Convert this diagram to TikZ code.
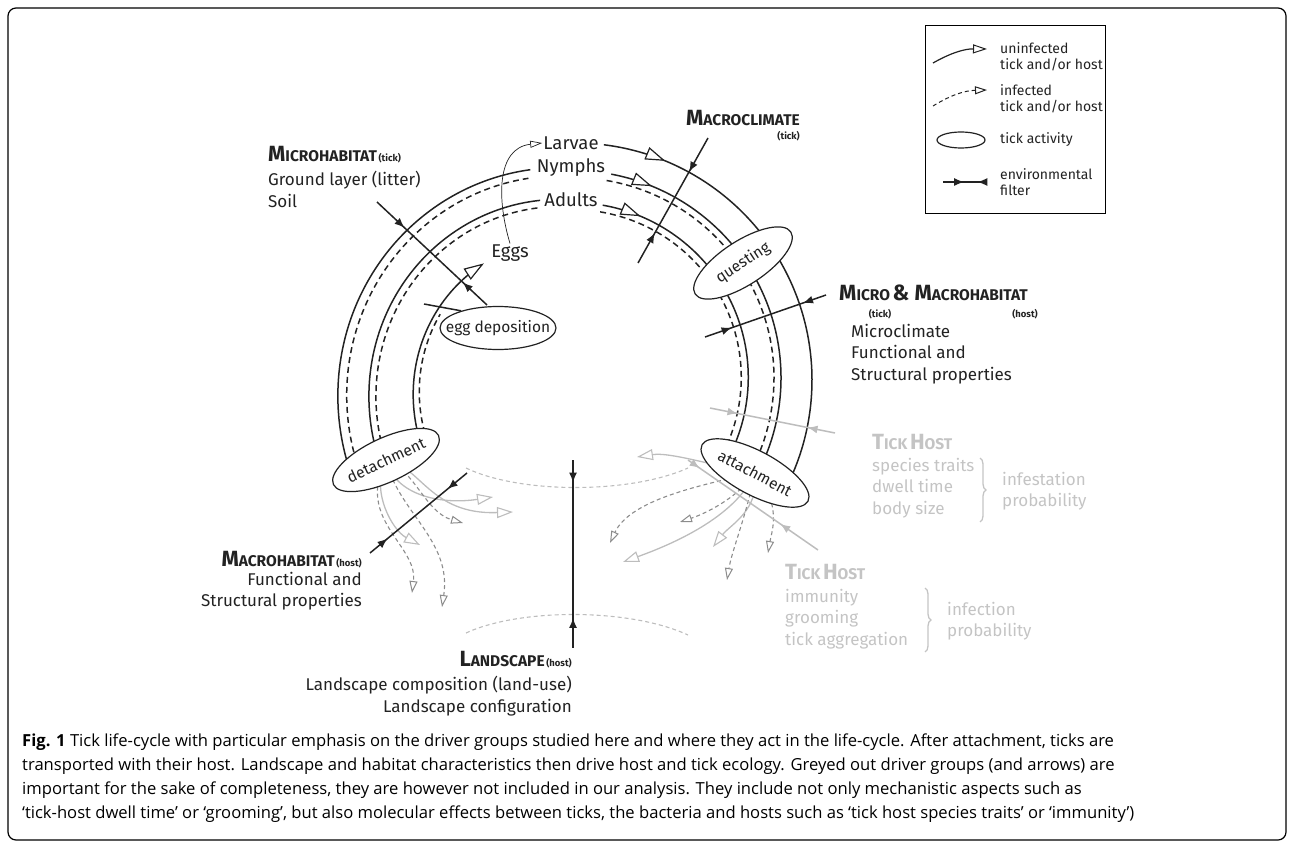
\documentclass[tikz,border=0pt]{standalone}
\usepackage{fontspec}
\setmainfont{Fira Sans}
\newfontfamily\capfont{Open Sans}
\usetikzlibrary{arrows.meta,decorations.markings,decorations.pathreplacing,shapes.geometric,backgrounds}

\definecolor{inkgrey}{HTML}{222222}
\definecolor{hostgrey}{HTML}{BDBDBD}
\definecolor{infgrey}{HTML}{8C8C8C}
\definecolor{txtgrey}{HTML}{C4C4C4}

% small-caps driver names, built by hand
\newcommand{\drvname}[2]{{\bfseries\fontsize{22}{24}\selectfont #1\fontsize{15.5}{18}\selectfont #2}}
\newcommand{\drvsub}[1]{{\bfseries\fontsize{9.5}{11}\selectfont (#1)}}
\newcommand{\zwtext}[1]{\makebox[0pt]{#1}}
% spiral piece round the life-cycle centre: from angle, to angle, from radius, to radius
\newcommand{\spiral}[4]{plot[domain=#1:#2,samples=90,variable=\t]({575+(#3+(#4-(#3))*(\t-(#1))/(#2-(#1)))*cos(\t)},{380+(#3+(#4-(#3))*(\t-(#1))/(#2-(#1)))*sin(\t)})}

\begin{document}
\begin{tikzpicture}[x=1pt, y=-1pt,
  ring/.style={draw=inkgrey, line width=1.5pt},
  infring/.style={ring, dash pattern=on 6pt off 4pt},
  stagearrow/.style={postaction=decorate, decoration={markings,
      mark=at position #1 with {\arrow{Triangle[fill=white, length=20pt, width=13pt, line width=1.2pt]}}}},
  envfilter/.style 2 args={draw=inkgrey, line width=1.5pt, postaction=decorate, decoration={markings,
      mark=at position #1 with {\arrow{Latex[length=10pt, width=8pt]}},
      mark=at position #2 with {\arrowreversed{Latex[length=10pt, width=8pt]}}}},
  greyfilter/.style 2 args={envfilter={#1}{#2}, draw=hostgrey},
  activity/.style={ellipse, draw=inkgrey, line width=1.2pt, fill=white, inner sep=0pt,
      text=inkgrey, font=\fontsize{15.5}{18}\selectfont},
  hostarrow/.style={draw=hostgrey, line width=1.3pt, -{Triangle[fill=white, length=16pt, width=11pt, line width=1.1pt]}},
  infarrow/.style={draw=infgrey, line width=1.1pt, dash pattern=on 4pt off 3pt, -{Triangle[fill=white, length=12pt, width=8pt, line width=1pt]}},
  landarc/.style={draw=hostgrey, line width=1.1pt, dash pattern=on 4pt off 3pt},
  stagelbl/.style={inner sep=1pt, text=inkgrey, font=\fontsize{18.5}{21}\selectfont},
  bodytxt/.style={inner sep=0pt, text=inkgrey, align=left, font=\fontsize{17}{21.5}\selectfont},
  headtxt/.style={inner sep=0pt, text=inkgrey},
  legtxt/.style={inner sep=0pt, text=inkgrey, align=left, anchor=west, font=\fontsize{14}{16.5}\selectfont},
  capline/.style={inner sep=0pt, anchor=base west, text=black, font=\capfont\fontsize{16.6}{19}\selectfont}]

\useasboundingbox (0,0) rectangle (1292,845);
\draw[line width=1.2pt, rounded corners=8pt] (8,8) rectangle (1286,840);

% rings going down the right side: questing to attachment
\draw[ring, stagearrow=0.14] \spiral{-83}{27}{237}{237};
\draw[ring, stagearrow=0.11] \spiral{-80}{27}{209}{205};
\draw[infring] \spiral{-81}{27}{202}{198};
\draw[ring, stagearrow=0.12] \spiral{-81}{27}{177}{172};
\draw[infring] \spiral{-81.5}{27}{170}{165};

% rings going up the left side: detachment to next stage
\draw[ring] \spiral{157}{258}{243}{215};
\draw[infring] \spiral{157}{257}{234}{207};
\draw[ring] \spiral{157}{259}{212}{183};
\draw[infring] \spiral{157}{258}{205}{176};
\draw[ring, -{Triangle[fill=white, length=20pt, width=13pt, line width=1.2pt]}] \spiral{157}{232}{167}{148};
\draw[infring] \spiral{157}{206}{160}{150};

% tick activities
\node[activity, minimum width=114, minimum height=44, rotate=33] (quest) at (743,263) {\zwtext{questing}};
\node[activity, minimum width=120, minimum height=44, rotate=-28] (attach) at (755,473) {\zwtext{attachment}};
\node[activity, minimum width=116, minimum height=44, rotate=25] (detach) at (386,460) {\zwtext{detachment}};
\node[activity, minimum width=116, minimum height=43] (eggdep) at (498,328) {\zwtext{egg deposition}};

% stages
\node[stagelbl] (larvae) at (571,143) {Larvae};
\node[stagelbl] (nymphs) at (571,168) {Nymphs};
\node[stagelbl] (adults) at (571,200) {Adults};
\node[stagelbl] (eggs) at (510,253) {Eggs};

\coordinate (eggstub) at (424,304);
\draw[ring] (eggstub) -- (eggdep.155);
\draw[draw=inkgrey, line width=0.7pt, -{Triangle[fill=white, length=12pt, width=7pt, line width=0.7pt]}]
  (eggs.north) .. controls (497,200) and (496,148) .. (larvae.west);

% transport with the host (greyed out)
\coordinate (dtA) at (493,497);
\coordinate (dtB) at (513,512);
\coordinate (dtC) at (463,523);
\coordinate (dtD) at (420,545);
\coordinate (dtE) at (412,593);
\coordinate (dtF) at (442,607);
\coordinate (atA) at (637,457);
\coordinate (atB) at (610,543);
\coordinate (atC) at (680,522);
\coordinate (atD) at (623,562);
\coordinate (atE) at (713,547);
\coordinate (atF) at (727,580);
\coordinate (atG) at (768,553);
\coordinate (la1) at (466,468);
\coordinate (la2) at (688,468);
\coordinate (lb1) at (466,633);
\coordinate (lb2) at (688,635);
\begin{scope}[on background layer]
  \draw[landarc] (la1) .. controls (520,494) and (630,494) .. (la2);
  \draw[landarc] (lb1) .. controls (520,608) and (630,608) .. (lb2);
  \draw[hostarrow] (detach.center) .. controls (395,495) and (440,505) .. (dtA);
  \draw[hostarrow] (detach.center) .. controls (420,465) and (430,515) .. (dtB);
  \draw[infarrow] (detach.center) .. controls (415,470) and (425,512) .. (dtC);
  \draw[hostarrow] (detach.center) .. controls (370,490) and (392,530) .. (dtD);
  \draw[infarrow] (detach.center) .. controls (355,520) and (418,545) .. (dtE);
  \draw[infarrow] (detach.center) .. controls (398,512) and (452,540) .. (dtF);
  \draw[hostarrow] (attach.center) .. controls (710,465) and (670,452) .. (atA);
  \draw[infarrow] (attach.center) .. controls (700,485) and (630,500) .. (atB);
  \draw[infarrow] (attach.center) .. controls (740,495) and (710,512) .. (atC);
  \draw[hostarrow] (attach.center) .. controls (735,518) and (670,545) .. (atD);
  \draw[hostarrow] (attach.center) .. controls (760,510) and (730,525) .. (atE);
  \draw[infarrow] (attach.center) .. controls (745,520) and (732,550) .. (atF);
  \draw[infarrow] (attach.center) .. controls (782,505) and (772,530) .. (atG);
\end{scope}

% environmental filters
\coordinate (mh1) at (377,202);
\coordinate (mh2) at (487,305);
\coordinate (mc1) at (708,138);
\coordinate (mc2) at (638,263);
\coordinate (mm1) at (826,295);
\coordinate (mm2) at (705,337);
\coordinate (th1) at (710,408);
\coordinate (th2) at (835,433);
\coordinate (ti1) at (688,460);
\coordinate (ti2) at (818,550);
\coordinate (ma1) at (467,473);
\coordinate (ma2) at (370,553);
\coordinate (ls1) at (573,460);
\coordinate (ls2) at (573,648);
\draw[envfilter={0.25}{0.78}] (mh1) -- (mh2);
\draw[envfilter={0.27}{0.76}] (mc1) -- (mc2);
\draw[envfilter={0.19}{0.78}] (mm1) -- (mm2);
\draw[greyfilter={0.22}{0.78}] (th1) -- (th2);
\draw[greyfilter={0.09}{0.71}] (ti1) -- (ti2);
\draw[envfilter={0.2}{0.82}] (ma1) -- (ma2);
\draw[envfilter={0.12}{0.84}] (ls1) -- (ls2);

% driver groups
\node[headtxt, anchor=west] (microhab) at (268,155) {\drvname{M}{ICROHABITAT}\,\drvsub{tick}};
\node[bodytxt, anchor=north west] (microhabtxt) at (268,171) {Ground layer (litter)\\Soil};
\node[headtxt, anchor=east] (macroclim) at (800,118) {\drvname{M}{ACROCLIMATE}};
\node[headtxt, anchor=east] (macroclimsub) at (800,136) {\drvsub{tick}};
\node[headtxt, anchor=west] (micmac) at (839,293) {\drvname{M}{ICRO} \drvname{\& M}{ACROHABITAT}};
\node[headtxt] (micsub) at (880,314) {\drvsub{tick}};
\node[headtxt, anchor=east] (macsub) at (1038,314) {\drvsub{host}};
\node[bodytxt, anchor=north west] (micmactxt) at (851,324) {Microclimate\\Functional and\\Structural properties};
\node[headtxt, anchor=east] (macrohab) at (362,560) {\drvname{M}{ACROHABITAT}\,\drvsub{host}};
\node[bodytxt, align=right, anchor=north east] (macrohabtxt) at (362,572) {Functional and\\Structural properties};
\node[headtxt, anchor=east] (landsc) at (572,660) {\drvname{L}{ANDSCAPE}\,\drvsub{host}};
\node[bodytxt, align=right, anchor=north east] (landsctxt) at (572,676) {Landscape composition (land-use)\\Landscape configuration};

% greyed out driver groups
\node[headtxt, text=txtgrey, anchor=west] (hostA) at (872,442) {\drvname{T}{ICK} \drvname{H}{OST}};
\node[bodytxt, text=txtgrey, anchor=north west] (hostAtxt) at (872,458) {species traits\\dwell time\\body size};
\coordinate (brA1) at (980,458);
\coordinate (brA2) at (980,522);
\draw[txtgrey, line width=1.3pt, decorate, decoration={brace, amplitude=6pt}] (brA1) -- (brA2);
\node[bodytxt, text=txtgrey, anchor=west] (infest) at (1002,491) {infestation\\probability};
\node[headtxt, text=txtgrey, anchor=west] (hostB) at (785,572) {\drvname{T}{ICK} \drvname{H}{OST}};
\node[bodytxt, text=txtgrey, anchor=north west] (hostBtxt) at (785,589) {immunity\\grooming\\tick aggregation};
\coordinate (brB1) at (925,588);
\coordinate (brB2) at (925,652);
\draw[txtgrey, line width=1.3pt, decorate, decoration={brace, amplitude=6pt}] (brB1) -- (brB2);
\node[bodytxt, text=txtgrey, anchor=west] (infect) at (947,621) {infection\\probability};

% legend
\node[draw, line width=1.2pt, minimum width=180, minimum height=188, anchor=north west, inner sep=0pt] (legend) at (925,25) {};
\coordinate (lg1a) at (933,63);
\coordinate (lg1b) at (987,49);
\coordinate (lg2a) at (933,106);
\coordinate (lg2b) at (987,90);
\coordinate (lg4a) at (943,182);
\coordinate (lg4b) at (985,182);
\draw[ring, line width=1.2pt, -{Triangle[fill=white, length=14pt, width=9pt, line width=1pt]}] (lg1a) to[bend left=15] (lg1b);
\draw[infarrow, draw=inkgrey, line width=1pt] (lg2a) to[bend left=15] (lg2b);
\node[activity, minimum width=48, minimum height=16] (legact) at (961,140) {};
\draw[envfilter={0.5}{0.82}, line width=1.2pt] (lg4a) -- (lg4b);
\node[legtxt] (lgt1) at (1000,57) {uninfected\\tick and/or host};
\node[legtxt] (lgt2) at (1000,99) {infected\\tick and/or host};
\node[legtxt] (lgt3) at (1000,140) {tick activity};
\node[legtxt] (lgt4) at (1000,182) {environmental\\filter};

% caption
\node[capline] (cap1) at (22,746) {\textbf{Fig. 1} Tick life-cycle with particular emphasis on the driver groups studied here and where they act in the life-cycle. After attachment, ticks are};
\node[capline] (cap2) at (22,770) {transported with their host. Landscape and habitat characteristics then drive host and tick ecology. Greyed out driver groups (and arrows) are};
\node[capline] (cap3) at (22,794) {important for the sake of completeness, they are however not included in our analysis. They include not only mechanistic aspects such as};
\node[capline] (cap4) at (22,818) {‘tick-host dwell time’ or ‘grooming’, but also molecular effects between ticks, the bacteria and hosts such as ‘tick host species traits’ or ‘immunity’)};
\end{tikzpicture}
\end{document}
